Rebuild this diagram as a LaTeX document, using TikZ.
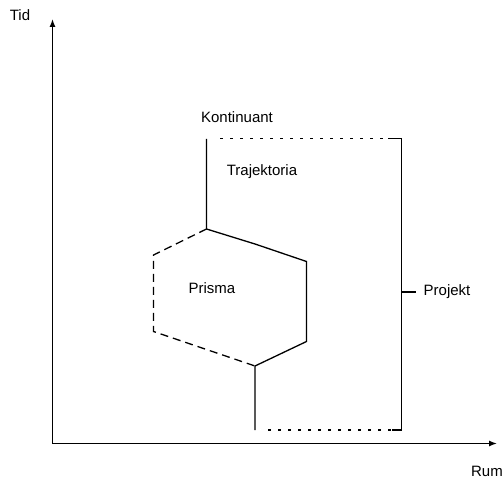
\documentclass[tikz,border=0pt]{standalone}
\usepackage{fontspec}
\setmainfont{Liberation Sans}
\usetikzlibrary{arrows.meta}
\begin{document}
\begin{tikzpicture}[x=1pt,y=-1pt,
  lbl/.style={font=\fontsize{15}{17}\selectfont, inner sep=0pt},
  solidline/.style={line width=1.3pt},
  dashline/.style={line width=1.3pt, dash pattern=on 8pt off 5pt},
  dotline/.style={line width=1.3pt, dash pattern=on 2.5pt off 7.5pt},
  axis/.style={line width=1.3pt, -{Latex[length=8pt,width=6pt]}}]
\useasboundingbox (0,0) rectangle (504,481);
% axes
\coordinate (O) at (52.5,443.5);
\coordinate (Ytop) at (52.5,19);
\coordinate (Xend) at (497,443.5);
\draw[axis] (O) -- (Ytop);
\draw[axis] (O) -- (Xend);
\node[lbl] (tid) at (20,15) {Tid};
\node[lbl] (rum) at (487,471) {Rum};
% trajectory points
\coordinate (k0) at (206.5,139);
\coordinate (k1) at (206.5,229);
\coordinate (k2) at (255,244);
\coordinate (k3) at (306.5,261.5);
\coordinate (k4) at (306.5,341.5);
\coordinate (k5) at (255,366);
\coordinate (k6) at (255,430);
\coordinate (d1) at (153.5,255);
\coordinate (d2) at (153.5,331.5);
\draw[solidline] (k0) -- (k1) -- (k2) -- (k3) -- (k4) -- (k5) -- (k6);
\draw[dashline] (k1) -- (d1) -- (d2) -- (k5);
% bracket
\coordinate (t0) at (220,138.5);
\coordinate (t1) at (401.5,138.5);
\coordinate (b0) at (268,430);
\coordinate (b1) at (401.5,430);
\coordinate (m0) at (401.5,292);
\coordinate (m1) at (416,292);
\draw[dotline] (t0) -- (388,138.5);
\draw[dotline] (b0) -- (392,430);
\draw[solidline] (388,138.5) -- (t1) -- (b1) -- (392,430);
\draw[solidline] (m0) -- (m1);
% labels
\node[lbl] (kont) at (237,117) {Kontinuant};
\node[lbl] (traj) at (262,172) {Trajektoria};
\node[lbl] (prisma) at (212,288) {Prisma};
\node[lbl] (proj) at (447,292) {Projekt};
\end{tikzpicture}
\end{document}
